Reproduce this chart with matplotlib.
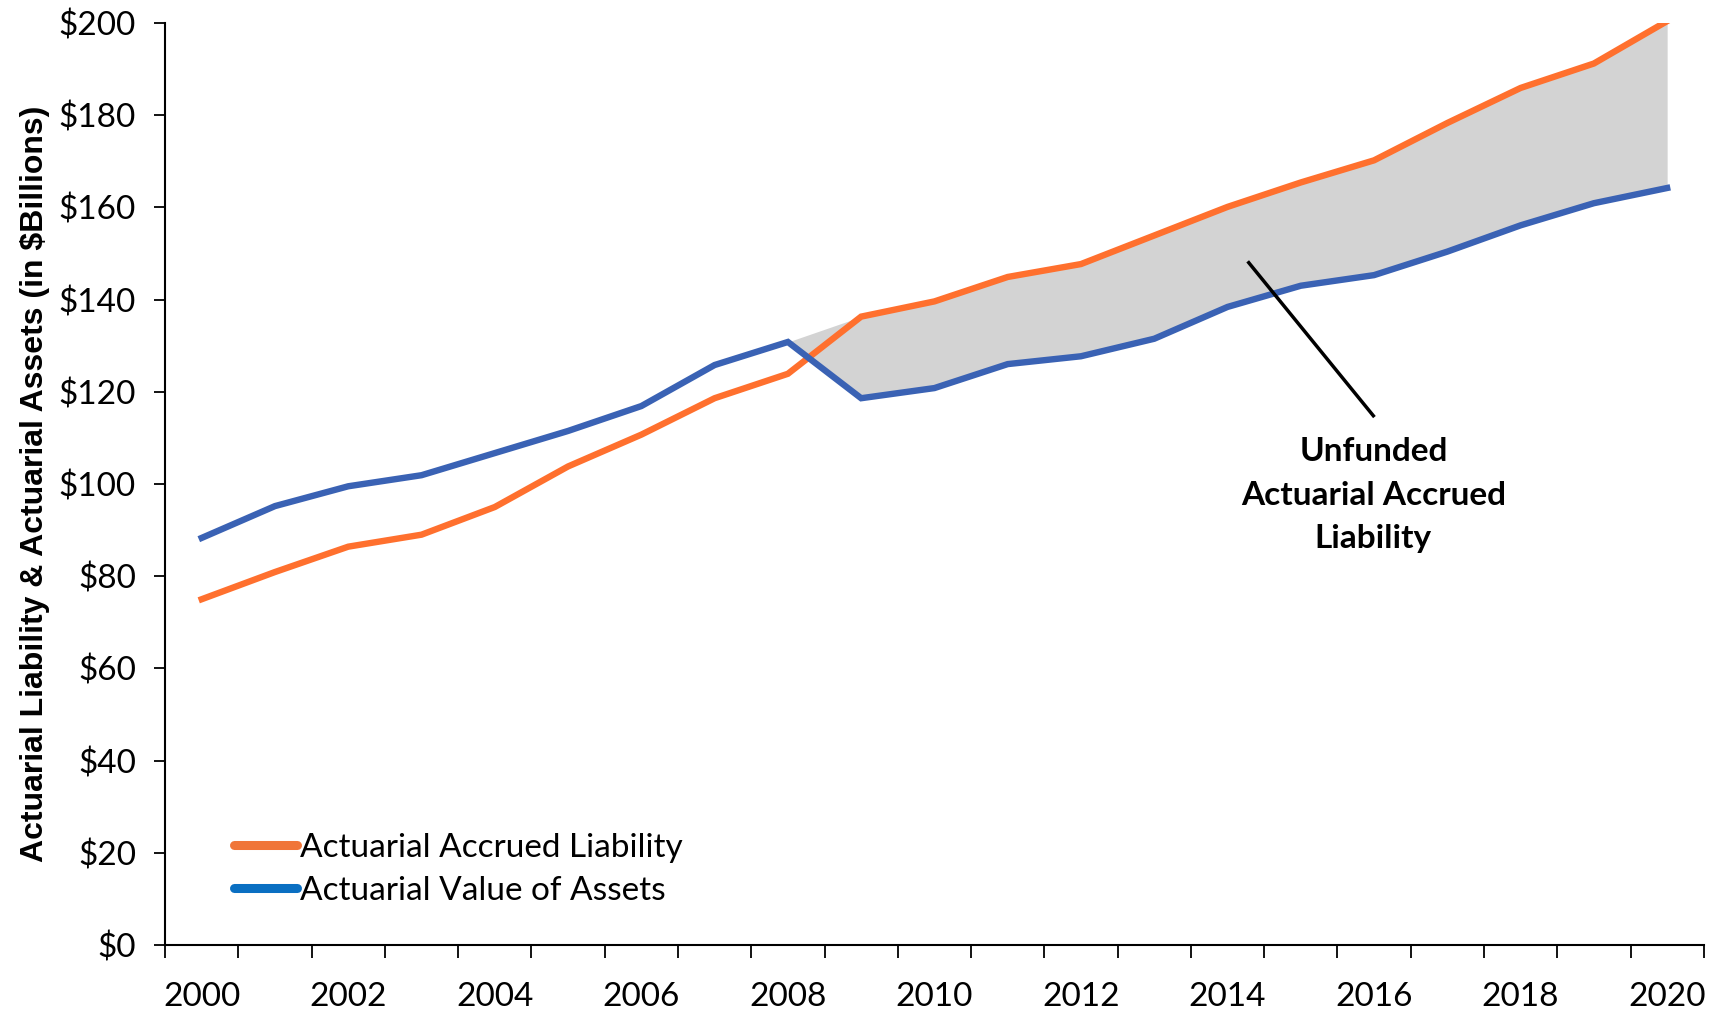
import matplotlib
matplotlib.use("Agg")
import matplotlib.pyplot as plt
from matplotlib.lines import Line2D
import numpy as np

# values ($ billions)
years = list(range(2000, 2021))
liability = [75.0, 80.9, 86.4, 89.0, 95.0, 103.8, 110.7, 118.6, 123.9, 136.3, 139.6,
             144.9, 147.7, 153.9, 160.1, 165.4, 170.2, 178.3, 185.9, 191.2, 200.4]
assets = [88.3, 95.2, 99.5, 101.9, 106.7, 111.5, 116.9, 125.8, 130.8, 118.6, 120.8,
          126.0, 127.7, 131.5, 138.4, 143.0, 145.3, 150.4, 156.1, 160.9, 164.2]
gap_start = 2008

orange = "#FF702E"
blue = "#3A62B4"
narrow = ["Lato", "DejaVu Sans"]

fig = plt.figure(figsize=(17.25, 10.11), dpi=100)
ax = fig.add_axes([0.0957, 0.0653, 0.892, 0.912])

x = np.arange(len(years))
liab = np.array(liability)
ast = np.array(assets)

# shaded unfunded area (stacked on top of assets, zero where assets exceed liability)
i0 = years.index(gap_start)
upper = ast + np.clip(liab - ast, 0, None)
ax.fill_between(x[i0:], ast[i0:], upper[i0:], color="#D3D3D3", lw=0, zorder=1)

ax.plot(x, liab, color=orange, lw=4.6, zorder=3, solid_joinstyle="miter")
ax.plot(x, ast, color=blue, lw=4.6, zorder=3, solid_joinstyle="miter")

ax.set_xlim(-0.5, len(years) - 0.5)
ax.set_ylim(0, 200)

ax.set_yticks(range(0, 201, 20))
ax.set_yticklabels(["$%d" % v for v in range(0, 201, 20)], fontfamily=narrow, fontsize=24)
ax.tick_params(axis="y", direction="out", length=8, width=1.3, pad=13)

ax.set_xticks(np.arange(-0.5, len(years), 1))
ax.set_xticklabels([])
ax.tick_params(axis="x", which="major", direction="out", length=9, width=1.3)
ax.set_xticks(x[::2], minor=True)
ax.set_xticklabels([str(y) for y in years[::2]], minor=True, fontfamily=narrow, fontsize=24)
ax.tick_params(axis="x", which="minor", length=0, pad=27)

for s in ["top", "right"]:
    ax.spines[s].set_visible(False)
for s in ["left", "bottom"]:
    ax.spines[s].set_linewidth(1.5)

ax.set_ylabel("Actuarial Liability & Actuarial Assets (in $Billions)", fontsize=23,
              fontweight="bold", fontfamily="Liberation Sans", labelpad=6)

# annotation for the shaded gap
ax.plot([14.29, 15.99], [148, 114.8], color="black", lw=2.5, zorder=4)
ax.text(15.99, 97.6, "Unfunded\nActuarial Accrued\nLiability", ha="center", va="center",
        fontsize=24, fontweight="bold", fontfamily=narrow, linespacing=1.6)

handles = [Line2D([], [], color="#F07538", lw=6.5, solid_capstyle="round"),
           Line2D([], [], color="#0A6FC2", lw=6.5, solid_capstyle="round")]
ax.legend(handles, ["Actuarial Accrued Liability", "Actuarial Value of Assets"],
          loc="lower left", bbox_to_anchor=(0.025, 0.01), frameon=False,
          prop={"family": narrow, "size": 24}, handlelength=1.9, handletextpad=0.1,
          labelspacing=0.38)

fig.savefig("out.png", dpi=100)
